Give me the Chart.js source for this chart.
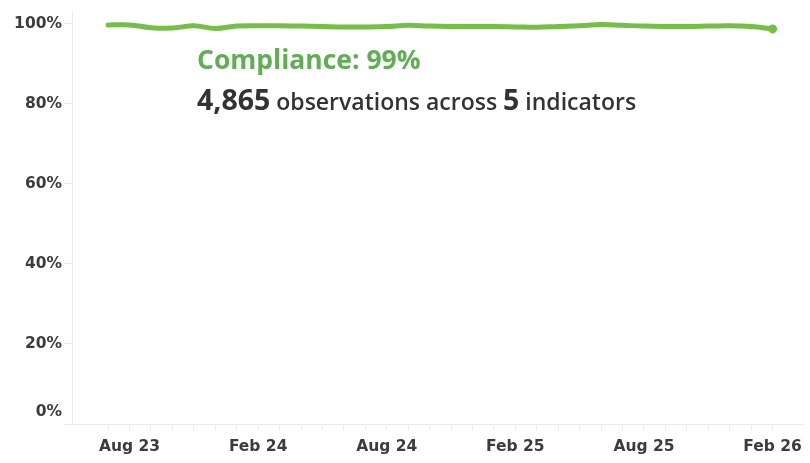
<!DOCTYPE html>
<html>
<head>
<meta charset="utf-8">
<script src="https://cdn.jsdelivr.net/npm/chart.js@4.4.1/dist/chart.umd.min.js"></script>
<style>
  html, body { margin: 0; padding: 0; background: #fff; }
  #wrap { position: relative; width: 810px; height: 463px; }
  .note { position: absolute; left: 197px; font-family: 'Open Sans', sans-serif; white-space: nowrap; }
  #title { top: 41px; font-size: 26.5px; font-weight: 700; color: #5FAF52; }
  #sub { top: 80px; font-size: 23px; font-weight: 600; color: #333; }
  #sub b { font-size: 28.5px; font-weight: 700; }
</style>
</head>
<body>
<div id="wrap">
  <canvas id="chart" width="810" height="463"></canvas>
  <div class="note" id="title">Compliance: 99%</div>
  <div class="note" id="sub"><b>4,865</b> observations across <b>5</b> indicators</div>
</div>
<script>
// ── Data ─────────────────────────────────────────────────────────────────────
// one point per month, Jul 23 .. Feb 26
const MONTHS = [
  'Jul 23', 'Aug 23', 'Sep 23', 'Oct 23', 'Nov 23', 'Dec 23',
  'Jan 24', 'Feb 24', 'Mar 24', 'Apr 24', 'May 24', 'Jun 24',
  'Jul 24', 'Aug 24', 'Sep 24', 'Oct 24', 'Nov 24', 'Dec 24',
  'Jan 25', 'Feb 25', 'Mar 25', 'Apr 25', 'May 25', 'Jun 25',
  'Jul 25', 'Aug 25', 'Sep 25', 'Oct 25', 'Nov 25', 'Dec 25',
  'Jan 26', 'Feb 26',
];
const COMPLIANCE = [
  99.7, 99.7, 99.0, 98.9, 99.5, 98.8,
  99.4, 99.5, 99.5, 99.4, 99.3, 99.2,
  99.2, 99.3, 99.6, 99.4, 99.3, 99.3,
  99.3, 99.2, 99.1, 99.3, 99.5, 99.8,
  99.6, 99.4, 99.3, 99.3, 99.4, 99.5,
  99.3, 98.7,
];
const Y_TICKS = [0, 20, 40, 60, 80, 100];
const X_LABELLED = ['Aug 23', 'Feb 24', 'Aug 24', 'Feb 25', 'Aug 25', 'Feb 26'];

const GREEN = '#74BF45';
const AXIS  = '#EBEBEB';
const TEXT  = '#3C3C3C';
const FONT  = { family: 'DejaVu Sans', size: 15.5, weight: 'bold' };

const points = COMPLIANCE.map((v, i) => ({ x: i, y: v }));

// 0% label sits a bit above the baseline, like the original
const zeroLabel = {
  id: 'zeroLabel',
  afterDraw(chart) {
    const y = chart.scales.y;
    const ctx = chart.ctx;
    ctx.save();
    ctx.font = `${FONT.weight} ${FONT.size}px ${FONT.family}`;
    ctx.fillStyle = TEXT;
    ctx.textAlign = 'right';
    ctx.textBaseline = 'middle';
    ctx.fillText('0%', y.right - 10, y.getPixelForValue(0) - 12);
    ctx.restore();
  }
};

new Chart(document.getElementById('chart'), {
  type: 'line',
  data: {
    datasets: [{
      data: points,
      borderColor: GREEN,
      backgroundColor: GREEN,
      borderWidth: 5,
      borderCapStyle: 'round',
      tension: 0.4,
      pointRadius: ctx => ctx.dataIndex === COMPLIANCE.length - 1 ? 4.5 : 0,
      pointHoverRadius: 0,
      pointBorderWidth: 0,
    }]
  },
  options: {
    responsive: false,
    animation: false,
    layout: { padding: { top: 5, left: 0, right: 0, bottom: 0 } },
    plugins: { legend: { display: false }, tooltip: { enabled: false } },
    scales: {
      x: {
        type: 'linear',
        min: -1.685,
        max: 32.48,
        afterBuildTicks: s => { s.ticks = MONTHS.map((m, i) => ({ value: i })); },
        afterFit: s => { s.height = 39; },
        border: { display: true, color: AXIS, width: 1 },
        grid: { drawOnChartArea: false, color: AXIS, tickLength: 6 },
        ticks: {
          autoSkip: false, maxRotation: 0, padding: 8, color: TEXT, font: FONT,
          callback: v => X_LABELLED.includes(MONTHS[v]) ? MONTHS[v] : '',
        },
      },
      y: {
        min: 0,
        max: 103.1,
        afterBuildTicks: s => { s.ticks = Y_TICKS.map(v => ({ value: v })); },
        afterFit: s => { s.width = 72; },
        border: { display: true, color: AXIS, width: 1 },
        grid: { drawOnChartArea: false, color: AXIS, tickLength: 8 },
        ticks: {
          padding: 2, color: TEXT, font: FONT,
          callback: v => v === 0 ? '' : v + '%',
        },
      },
    },
  },
  plugins: [zeroLabel],
});
</script>
</body>
</html>
